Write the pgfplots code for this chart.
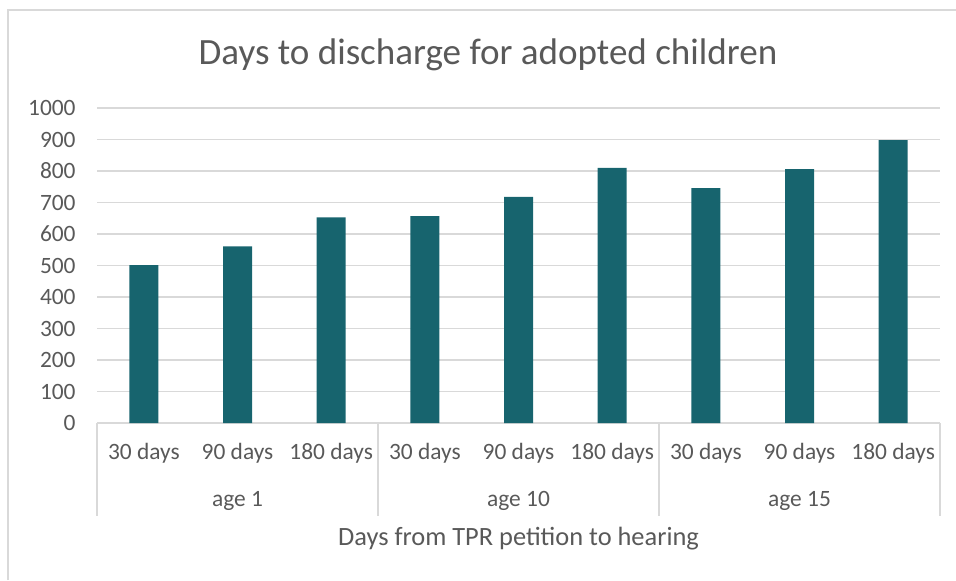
\documentclass[border=0pt]{standalone}
\usepackage{fontspec}
\setmainfont{Carlito}
\usepackage{pgfplots}
\pgfplotsset{compat=1.18}
\definecolor{barc}{RGB}{23,100,110}
\definecolor{gridc}{RGB}{217,217,217}
\definecolor{txtc}{RGB}{89,89,89}
\begin{document}
\begin{tikzpicture}[x=1bp,y=1bp]
\useasboundingbox (0,0) rectangle (478,290);
\draw[gridc, line width=0.6bp] (4,0) -- (4,285) -- (478,285);
\node[txtc, font=\fontsize{18.6}{22}\selectfont, anchor=center] at (244,262.5) {Days to discharge for adopted children};
\begin{axis}[
  at={(48.5bp,78.5bp)}, anchor=south west,
  width=421.5bp, height=157.5bp, scale only axis,
  xmin=-0.5, xmax=8.5, ymin=0, ymax=1000,
  ytick={0,100,...,1000},
  xtick={0,...,8},
  xticklabels={30 days,90 days,180 days,30 days,90 days,180 days,30 days,90 days,180 days},
  axis line style={draw=none},
  major tick length=0,
  ymajorgrids,
  major grid style={gridc, line width=0.75bp},
  /pgf/number format/assume math mode=true,
  /pgf/number format/1000 sep={},
  tick label style={font=\fontsize{11.75}{14}\selectfont, text=txtc},
  yticklabel style={anchor=east, inner sep=0pt, xshift=-10.5bp},
  xticklabel style={anchor=center, inner sep=0pt, yshift=-15bp},
  xlabel={Days from TPR petition to hearing},
  every axis x label/.style={at={(axis description cs:0.5,0)}, anchor=center, yshift=-58bp, font=\fontsize{13.25}{16}\selectfont, text=txtc},
  clip=false,
]
\addplot[ybar, bar width=14.5bp, fill=barc, draw=none] coordinates {(0,501) (1,561) (2,653) (3,657) (4,718) (5,810) (6,746) (7,806) (8,898)};
\foreach \xx in {-0.5,2.5,5.5,8.5} {
  \edef\tmp{\noexpand\draw[gridc, line width=0.75bp] (axis cs:\xx,0) -- ([yshift=-46.5bp]axis cs:\xx,0);}
  \tmp
}
\node[txtc, font=\fontsize{11.75}{14}\selectfont, anchor=center] at ([yshift=-39bp]axis cs:1,0) {age 1};
\node[txtc, font=\fontsize{11.75}{14}\selectfont, anchor=center] at ([yshift=-39bp]axis cs:4,0) {age 10};
\node[txtc, font=\fontsize{11.75}{14}\selectfont, anchor=center] at ([yshift=-39bp]axis cs:7,0) {age 15};
\end{axis}
\end{tikzpicture}
\end{document}
